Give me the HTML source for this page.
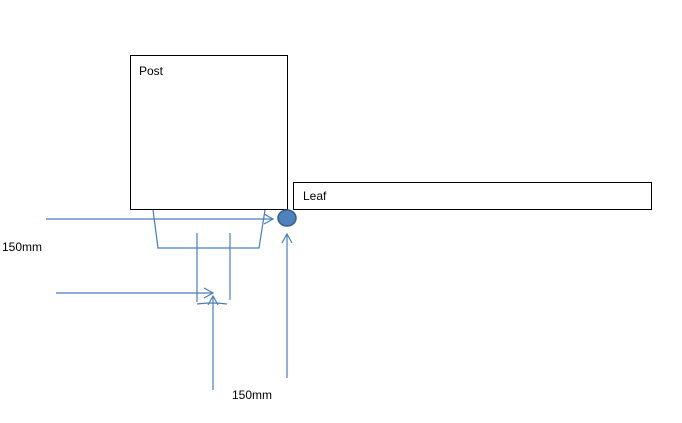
<!DOCTYPE html>
<html><head><style>body{margin:0;background:#fff}svg{display:block}text{font-family:"Liberation Sans",sans-serif;font-size:12px;fill:#000}</style></head>
<body>
<svg width="682" height="423" xmlns="http://www.w3.org/2000/svg">
<rect x="130.5" y="55.5" width="157" height="154" fill="#fff" stroke="#000"/>
<text x="139" y="75">Post</text>
<rect x="293.5" y="182.5" width="358" height="27" fill="#fff" stroke="#000"/>
<text x="303" y="200">Leaf</text>
<g stroke="#4a7ebb" stroke-width="1.2" fill="none">
<line x1="46" y1="219" x2="273" y2="219"/>
<polyline points="264,214 273,219 264,224"/>
<polyline points="153,210 158,248 259,248 265,210"/>
<line x1="197" y1="233" x2="197" y2="302"/>
<line x1="230" y1="233" x2="230" y2="300"/>
<line x1="56" y1="293" x2="213" y2="293"/>
<polyline points="204,288 213,293 204,298"/>
<path d="M197,304 Q212,302 227,304"/>
<line x1="213" y1="390" x2="213" y2="296"/>
<polyline points="208,305 213,296 218,305"/>
<line x1="287" y1="378" x2="287" y2="234"/>
<polyline points="282,243 287,234 292,243"/>
</g>
<ellipse cx="287" cy="218" rx="9" ry="8" fill="#4f81bd" stroke="#385d8a" stroke-width="1.5"/>
<text x="2" y="251">150mm</text>
<text x="232" y="399">150mm</text>
</svg>
</body></html>
